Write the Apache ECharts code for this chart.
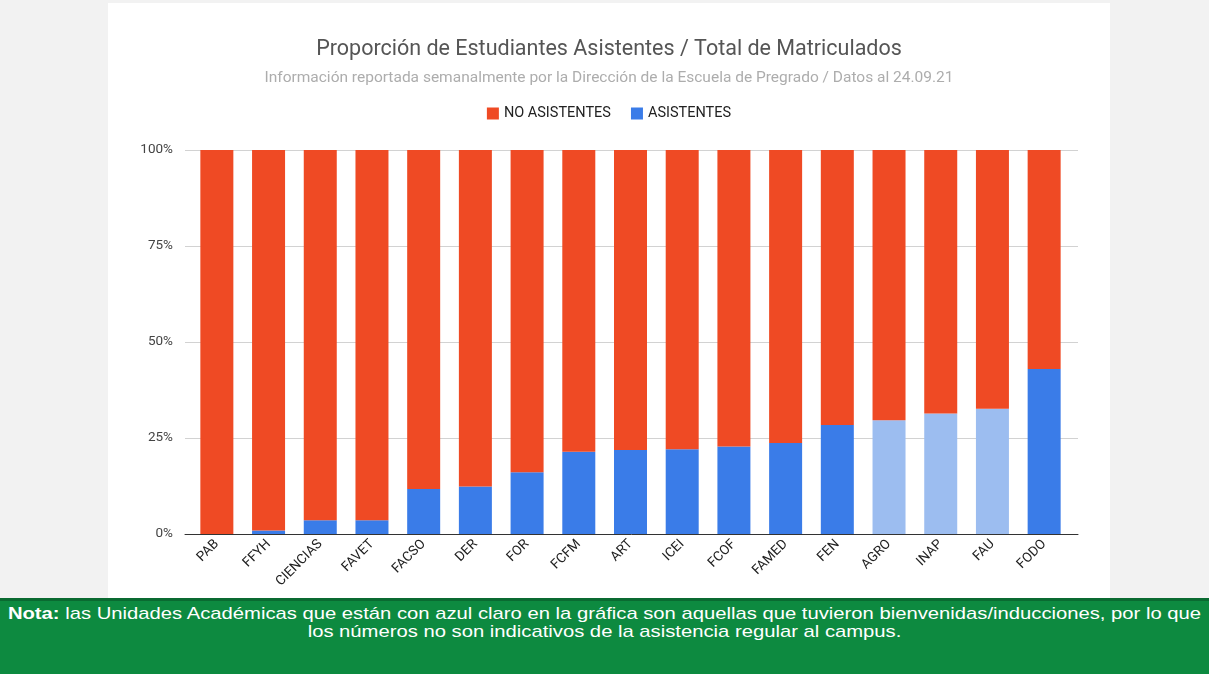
<!DOCTYPE html>
<html>
<head>
<meta charset="utf-8">
<title>Proporción de Estudiantes Asistentes</title>
<script src="https://cdn.jsdelivr.net/npm/echarts@6/dist/echarts.min.js"></script>
<style>
  html, body { margin: 0; padding: 0; background: #f2f2f2; width: 1209px; height: 674px; overflow: hidden; }
  .card { position: absolute; left: 108px; top: 3px; width: 1002px; height: 595px; background: #fff; }
  .chart { position: absolute; left: 0; top: 0; width: 1002px; height: 595px; }
  .nota {
    position: absolute; left: 0; top: 598px; width: 1209px; height: 76px;
    background: #0d8a40; border-top: 3px solid #0a6a31; box-sizing: border-box;
    color: #fff; font-family: "Liberation Sans", Arial, sans-serif; font-size: 17px;
    line-height: 18px; text-align: center; padding-top: 4px;
  }
  .nota div { transform: scaleX(1.19); transform-origin: 50% 0; white-space: nowrap; }
  .nota b { font-weight: bold; }
</style>
</head>
<body>
<div class="card"><div class="chart" id="chart"></div></div>
<div class="nota"><div><b>Nota:</b> las Unidades Académicas que están con azul claro en la gráfica son aquellas que tuvieron bienvenidas/inducciones, por lo que<br>los números no son indicativos de la asistencia regular al campus.</div></div>
<script>
  // unidades académicas
  var unidades = ['PAB', 'FFYH', 'CIENCIAS', 'FAVET', 'FACSO', 'DER', 'FOR', 'FCFM', 'ART',
    'ICEI', 'FCOF', 'FAMED', 'FEN', 'AGRO', 'INAP', 'FAU', 'FODO']
  // % asistentes / no asistentes
  var asistentes = [0, 0.9, 3.6, 3.6, 11.7, 12.4, 16.1, 21.4, 21.9, 22.1, 22.8, 23.7, 28.4, 29.6, 31.4, 32.6, 43.0]
  var noAsistentes = [100, 99.1, 96.4, 96.4, 88.3, 87.6, 83.9, 78.6, 78.1, 77.9, 77.2, 76.3, 71.6, 70.4, 68.6, 67.4, 57.0]
  // unidades con bienvenidas/inducciones (azul claro)
  var conInduccion = ['AGRO', 'INAP', 'FAU']
  var yTicks = [0, 25, 50, 75, 100]

  var ROJO = '#ef4a24'
  var AZUL = '#3a7ce8'
  var AZUL_CLARO = '#9cbdf0'

  var chart = echarts.init(document.getElementById('chart'))
  chart.setOption({
    animation: false,
    textStyle: { fontFamily: 'Roboto, Arial, sans-serif' },
    title: [
      {
        text: 'Proporción de Estudiantes Asistentes / Total de Matriculados',
        left: 'center',
        top: 31,
        textStyle: { color: '#555', fontSize: 21.5, fontWeight: 'normal', fontFamily: 'Roboto, Arial, sans-serif' }
      },
      {
        text: 'Información reportada semanalmente por la Dirección de la Escuela de Pregrado / Datos al 24.09.21',
        left: 'center',
        top: 62,
        textStyle: { color: '#adadad', fontSize: 15.5, fontWeight: 'normal', fontFamily: 'Roboto, Arial, sans-serif' }
      }
    ],
    legend: {
      data: ['NO ASISTENTES', 'ASISTENTES'],
      top: 98,
      left: 'center',
      icon: 'rect',
      itemWidth: 12,
      itemHeight: 12,
      itemGap: 20,
      textStyle: { color: '#222', fontSize: 14.5, fontFamily: 'Roboto, Arial, sans-serif' }
    },
    grid: [
      { left: 77, right: 32, top: 147, bottom: 64 },
      { left: 83, right: 40, top: 147, bottom: 64 }
    ],
    xAxis: [
      {
        gridIndex: 0,
        type: 'category',
        data: unidades,
        axisLine: { lineStyle: { color: '#333', width: 1 } },
        axisTick: { show: false },
        axisLabel: { show: false }
      },
      {
        gridIndex: 1,
        type: 'category',
        data: unidades,
        axisLine: { show: false },
        axisTick: { show: false },
        axisLabel: { rotate: 45, color: '#222', fontSize: 13.5, margin: 8 }
      }
    ],
    yAxis: [
      {
        gridIndex: 0,
        type: 'value',
        min: yTicks[0],
        max: yTicks[yTicks.length - 1],
        interval: 25,
        axisLine: { show: false },
        axisTick: { show: false },
        axisLabel: { color: '#444', fontSize: 13.5, margin: 12, formatter: '{value}%' },
        splitLine: { lineStyle: { color: '#d2d2d2' } }
      },
      {
        gridIndex: 1,
        type: 'value',
        min: 0,
        max: 100,
        show: false,
        splitLine: { show: false }
      }
    ],
    series: [
      {
        name: 'ASISTENTES',
        type: 'bar',
        stack: 'total',
        xAxisIndex: 1,
        yAxisIndex: 1,
        barWidth: 33,
        itemStyle: { color: AZUL },
        data: asistentes.map(function (v, i) {
          return conInduccion.indexOf(unidades[i]) >= 0
            ? { value: v, itemStyle: { color: AZUL_CLARO } }
            : v
        })
      },
      {
        name: 'NO ASISTENTES',
        type: 'bar',
        stack: 'total',
        xAxisIndex: 1,
        yAxisIndex: 1,
        barWidth: 33,
        itemStyle: { color: ROJO },
        data: noAsistentes
      }
    ]
  })
</script>
</body>
</html>
